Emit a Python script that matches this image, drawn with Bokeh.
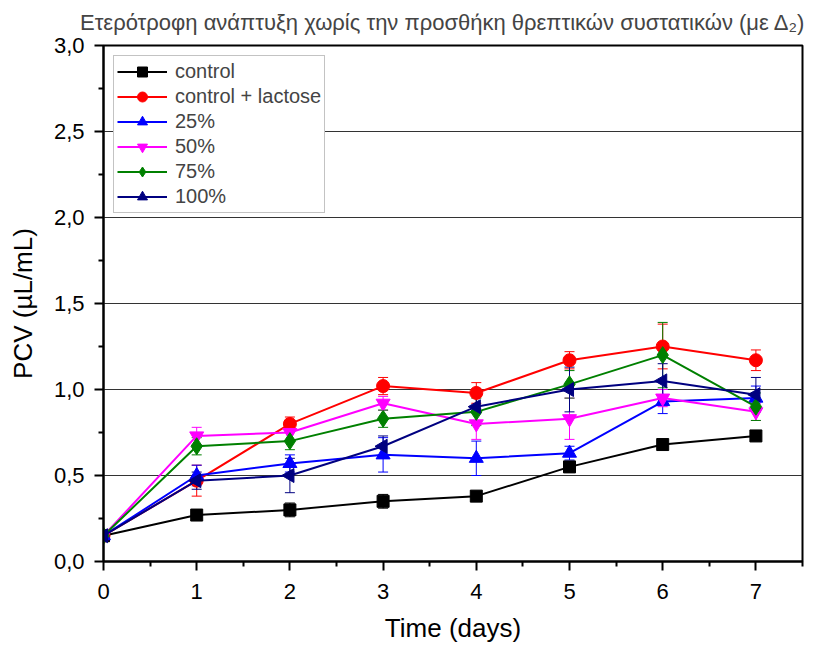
import math
from bokeh.plotting import figure
from bokeh.models import (ColumnDataSource, FixedTicker, Whisker, TeeHead,
                          Legend, LegendItem)
from bokeh.embed import file_html
from bokeh.resources import INLINE

# ---- data ----
days = [0, 1, 2, 3, 4, 5, 6, 7]
series_names = ["control", "control + lactose", "25%", "50%", "75%", "100%"]
control = [0.15, 0.27, 0.30, 0.35, 0.38, 0.55, 0.68, 0.73]
control_err = [0.02, 0.02, 0.04, 0.04, 0.02, 0.03, 0.02, 0.02]
lactose = [0.15, 0.47, 0.80, 1.02, 0.98, 1.17, 1.25, 1.17]
lactose_err = [0.02, 0.09, 0.04, 0.05, 0.06, 0.05, 0.13, 0.06]
p25 = [0.15, 0.50, 0.57, 0.62, 0.60, 0.63, 0.93, 0.95]
p25_err = [0.02, 0.06, 0.05, 0.10, 0.10, 0.04, 0.07, 0.07]
p50 = [0.15, 0.73, 0.75, 0.92, 0.80, 0.83, 0.95, 0.87]
p50_err = [0.02, 0.05, 0.05, 0.04, 0.09, 0.12, 0.05, 0.05]
p75 = [0.15, 0.67, 0.70, 0.83, 0.87, 1.03, 1.20, 0.90]
p75_err = [0.02, 0.05, 0.05, 0.05, 0.08, 0.08, 0.19, 0.08]
p100 = [0.15, 0.47, 0.50, 0.67, 0.90, 1.00, 1.05, 0.97]
p100_err = [0.02, 0.05, 0.10, 0.06, 0.10, 0.13, 0.10, 0.10]

x_ticks = [0, 1, 2, 3, 4, 5, 6, 7]
x_minor = [0.5, 1.5, 2.5, 3.5, 4.5, 5.5, 6.5, 7.5]
y_ticks = [0.0, 0.5, 1.0, 1.5, 2.0, 2.5, 3.0]
y_tick_labels = ["0,0", "0,5", "1,0", "1,5", "2,0", "2,5", "3,0"]
y_minor = [0.25, 0.75, 1.25, 1.75, 2.25, 2.75]

title_text = "Ετερότροφη ανάπτυξη χωρίς την προσθήκη θρεπτικών συστατικών (με Δ₂)"
x_label = "Time (days)"
y_label = "PCV (µL/mL)"

values = [control, lactose, p25, p50, p75, p100]
errors = [control_err, lactose_err, p25_err, p50_err, p75_err, p100_err]
colors = ["#000000", "#FF0000", "#0000FF", "#FF00FF", "#008000", "#000080"]
markers = ["square", "circle", "triangle", "inverted_triangle", "diamond", "triangle"]
sizes = [12, 13, 14, 14, 17, 14]
angles = [0, 0, 0, 0, 0, math.pi / 2]

FONT = "Liberation Sans"

p = figure(width=823, height=645, x_range=(0, 7.5), y_range=(0, 3),
           output_backend="svg", toolbar_location=None,
           min_border_left=103, min_border_right=21,
           min_border_top=45, min_border_bottom=84)

p.title.text = title_text
p.title.text_font = FONT
p.title.text_font_size = "22px"
p.title.text_font_style = "normal"
p.title.align = "right"
p.title.vertical_align = "top"
p.title.offset = -7
p.title.standoff = 10
p.title.padding = 4

p.outline_line_color = "black"
p.outline_line_width = 2
p.background_fill_color = "white"
p.border_fill_color = "white"

p.xgrid.visible = False
p.ygrid.ticker = FixedTicker(ticks=[0.5, 1.0, 1.5, 2.0, 2.5])
p.ygrid.grid_line_color = "#333333"
p.ygrid.grid_line_width = 1

for ax in (p.xaxis[0], p.yaxis[0]):
    ax.axis_line_width = 2
    ax.axis_line_color = "black"
    ax.major_tick_line_width = 2
    ax.minor_tick_line_width = 2
    ax.major_tick_in = 0
    ax.minor_tick_in = 0
    ax.major_tick_out = 9
    ax.minor_tick_out = 5
    ax.major_label_text_font = FONT
    ax.major_label_text_font_size = "22px"
    ax.major_label_text_color = "black"
    ax.axis_label_text_font = FONT
    ax.axis_label_text_font_size = "26px"
    ax.axis_label_text_font_style = "normal"
    ax.axis_label_text_color = "black"

p.xaxis[0].ticker = FixedTicker(ticks=x_ticks, minor_ticks=x_minor)
p.yaxis[0].ticker = FixedTicker(ticks=y_ticks, minor_ticks=y_minor)
p.yaxis[0].major_label_overrides = {t: l for t, l in zip(y_ticks, y_tick_labels)}
p.xaxis[0].axis_label = x_label
p.yaxis[0].axis_label = y_label
p.xaxis[0].major_label_standoff = 13
p.xaxis[0].axis_label_standoff = 11
p.yaxis[0].major_label_standoff = 10
p.yaxis[0].axis_label_standoff = 13

items = []
for name, vals, errs, col, mk, sz, ang in zip(series_names, values, errors,
                                                colors, markers, sizes, angles):
    src = ColumnDataSource(dict(
        x=days, y=vals,
        upper=[v + e for v, e in zip(vals, errs)],
        lower=[v - e for v, e in zip(vals, errs)]))
    w = Whisker(base="x", upper="upper", lower="lower", source=src,
                line_color=col, line_width=1,
                upper_head=TeeHead(size=10, line_color=col, line_width=1),
                lower_head=TeeHead(size=10, line_color=col, line_width=1))
    p.add_layout(w)
    ln = p.line("x", "y", source=src, line_color=col, line_width=2)
    sc = p.scatter("x", "y", source=src, marker=mk, size=sz, angle=ang,
                   fill_color=col, line_color=col, line_width=1)
    items.append(LegendItem(label=name, renderers=[ln, sc]))

legend = Legend(items=items, location="top_left")
legend.margin = 10
legend.padding = 3
legend.spacing = 0
legend.glyph_width = 50
legend.glyph_height = 25
legend.label_height = 25
legend.label_standoff = 8
legend.label_text_font = FONT
legend.label_text_font_size = "20px"
legend.border_line_color = "#888888"
legend.border_line_width = 1
legend.background_fill_alpha = 1
p.add_layout(legend, "center")

open("out.html", "w").write(file_html(p, INLINE))
